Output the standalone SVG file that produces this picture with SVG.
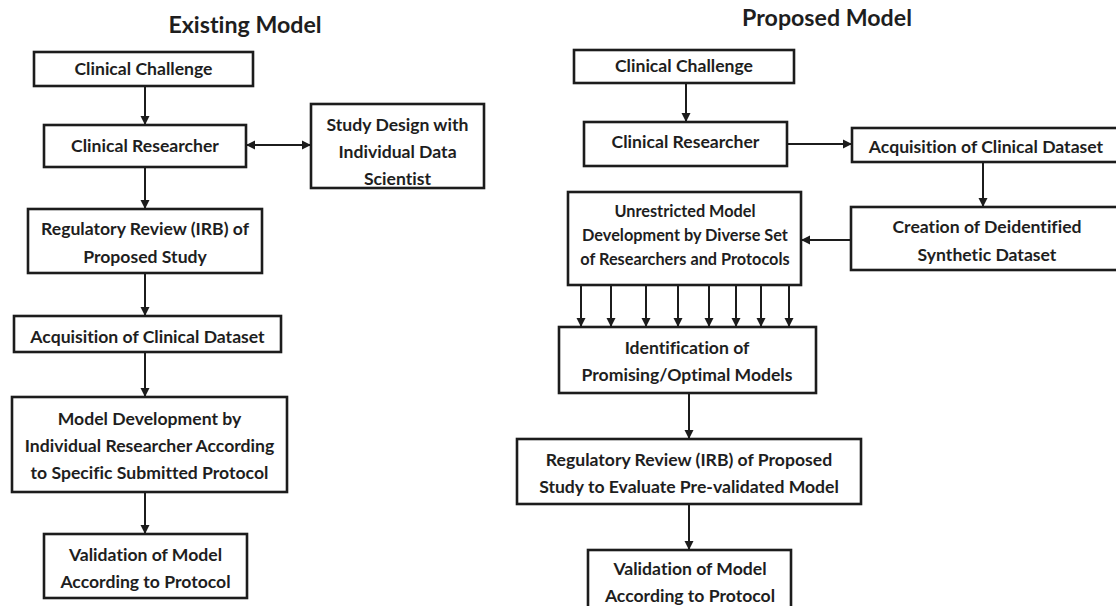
<svg xmlns="http://www.w3.org/2000/svg" width="1116" height="606" viewBox="0 0 1116 606">
<style>
.box{fill:#fff;stroke:#1c1c1c;stroke-width:2.6}
.t{font-family:Lato,"Open Sans","Liberation Sans",sans-serif;font-weight:bold;font-size:17.6px;fill:#1e1e1e;text-anchor:middle;font-variant-ligatures:none}
.s{font-size:16.3px}
.h{font-size:23.2px}
.c{stroke:#1c1c1c;stroke-width:2;fill:none}
</style>
<defs>
<marker id="ah" viewBox="0 0 10 10" refX="10" refY="5" markerWidth="9" markerHeight="10" markerUnits="userSpaceOnUse" orient="auto-start-reverse">
<path d="M0,0 L10,5 L0,10 z" fill="#1c1c1c"/>
</marker>
</defs>
<rect width="1116" height="606" fill="#fff"/>
<text class="t h" x="245" y="33">Existing Model</text>
<text class="t h" x="827" y="26">Proposed Model</text>
<g id="connectors">
<line class="c" x1="145" y1="86" x2="145" y2="125" marker-end="url(#ah)"/>
<line class="c" x1="246" y1="145" x2="311" y2="145" marker-start="url(#ah)" marker-end="url(#ah)"/>
<line class="c" x1="145" y1="167" x2="145" y2="209" marker-end="url(#ah)"/>
<line class="c" x1="145" y1="273" x2="145" y2="316" marker-end="url(#ah)"/>
<line class="c" x1="145" y1="352" x2="145" y2="397" marker-end="url(#ah)"/>
<line class="c" x1="145" y1="492" x2="145" y2="534" marker-end="url(#ah)"/>
<line class="c" x1="686" y1="83" x2="686" y2="122" marker-end="url(#ah)"/>
<line class="c" x1="787" y1="144" x2="852" y2="144" marker-end="url(#ah)"/>
<line class="c" x1="983" y1="162" x2="983" y2="207" marker-end="url(#ah)"/>
<line class="c" x1="851" y1="240" x2="801" y2="240" marker-end="url(#ah)"/>
<line class="c" x1="581" y1="285" x2="581" y2="327" marker-end="url(#ah)"/>
<line class="c" x1="611" y1="285" x2="611" y2="327" marker-end="url(#ah)"/>
<line class="c" x1="646" y1="285" x2="646" y2="327" marker-end="url(#ah)"/>
<line class="c" x1="678" y1="285" x2="678" y2="327" marker-end="url(#ah)"/>
<line class="c" x1="709" y1="285" x2="709" y2="327" marker-end="url(#ah)"/>
<line class="c" x1="736" y1="285" x2="736" y2="327" marker-end="url(#ah)"/>
<line class="c" x1="761" y1="285" x2="761" y2="327" marker-end="url(#ah)"/>
<line class="c" x1="789" y1="285" x2="789" y2="327" marker-end="url(#ah)"/>
<line class="c" x1="689" y1="393" x2="689" y2="439" marker-end="url(#ah)"/>
<line class="c" x1="689" y1="504" x2="689" y2="550" marker-end="url(#ah)"/>
</g>
<g id="L1"><rect class="box" x="34" y="52" width="219" height="34"/><text class="t" x="143.5" y="75">Clinical Challenge</text></g>
<g id="L2"><rect class="box" x="44" y="125" width="202" height="42"/><text class="t" x="145" y="152">Clinical Researcher</text></g>
<g id="L3"><rect class="box" x="311" y="104" width="173" height="84"/><text class="t" x="397.5" y="131">Study Design with</text><text class="t" x="397.5" y="158">Individual Data</text><text class="t" x="397.5" y="185">Scientist</text></g>
<g id="L4"><rect class="box" x="28" y="209" width="234" height="64"/><text class="t" x="145" y="235">Regulatory Review (IRB) of</text><text class="t" x="145" y="263">Proposed Study</text></g>
<g id="L5"><rect class="box" x="14" y="316" width="267" height="36"/><text class="t" x="147.5" y="343">Acquisition of Clinical Dataset</text></g>
<g id="L6"><rect class="box" x="12" y="397" width="275" height="95"/><text class="t" x="149.5" y="425">Model Development by</text><text class="t" x="149.5" y="452">Individual Researcher According</text><text class="t" x="149.5" y="479">to Specific Submitted Protocol</text></g>
<g id="L7"><rect class="box" x="44" y="534" width="203" height="64"/><text class="t" x="145.5" y="561">Validation of Model</text><text class="t" x="145.5" y="588">According to Protocol</text></g>
<g id="R1"><rect class="box" x="574" y="50" width="220" height="33"/><text class="t" x="684" y="72">Clinical Challenge</text></g>
<g id="R2"><rect class="box" x="584" y="122" width="203" height="44"/><text class="t" x="685.5" y="148">Clinical Researcher</text></g>
<g id="R3"><rect class="box" x="852" y="128" width="280" height="34"/><text class="t" x="986" y="153">Acquisition of Clinical Dataset</text></g>
<g id="R4"><rect class="box" x="851" y="207" width="280" height="63"/><text class="t" x="987" y="233">Creation of Deidentified</text><text class="t" x="987" y="261">Synthetic Dataset</text></g>
<g id="R5"><rect class="box" x="568" y="192" width="233" height="93"/><text class="t s" x="685" y="217">Unrestricted Model</text><text class="t s" x="685" y="241">Development by Diverse Set</text><text class="t s" x="685" y="265">of Researchers and Protocols</text></g>
<g id="R6"><rect class="box" x="559" y="327" width="257" height="66"/><text class="t" x="687" y="354">Identification of</text><text class="t" x="687" y="381">Promising/Optimal Models</text></g>
<g id="R7"><rect class="box" x="517" y="439" width="344" height="65"/><text class="t" x="689" y="466">Regulatory Review (IRB) of Proposed</text><text class="t" x="689" y="493">Study to Evaluate Pre-validated Model</text></g>
<g id="R8"><rect class="box" x="588" y="550" width="203" height="70"/><text class="t" x="690" y="575">Validation of Model</text><text class="t" x="690" y="602">According to Protocol</text></g>
</svg>
